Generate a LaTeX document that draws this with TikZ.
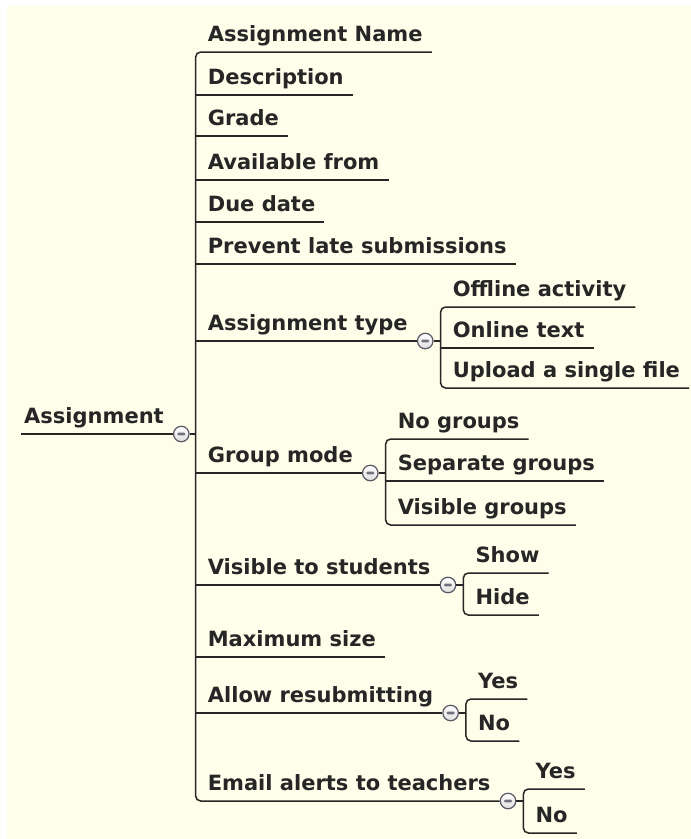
\documentclass[tikz,border=0pt]{standalone}
\usepackage{fontspec}
\setmainfont{DejaVu Sans}
\usetikzlibrary{positioning, calc}
\definecolor{paper}{RGB}{254,254,234}
\definecolor{ink}{RGB}{38,38,38}
\definecolor{rim}{RGB}{88,88,100}
\tikzset{
  item/.style    = {anchor=south west, xshift=3pt,
                    inner xsep=9pt, inner ysep=10pt, text depth=0pt,
                    text=ink, font=\fontsize{21}{24}\selectfont\bfseries},
  link/.style    = {draw=ink, line width=1.5pt},
  bracket/.style = {link, rounded corners=5pt},
  toggle/.style  = {circle, draw=rim, line width=1.2pt, anchor=west,
                    top color=white, bottom color=gray!25,
                    minimum size=15.5pt, inner sep=0pt,
                    path picture={\fill[rim!85, rounded corners=1.2pt]
                      ($(path picture bounding box.center)+(-4pt,-1.4pt)$)
                      rectangle ++(8pt,2.8pt);}},
}

\begin{document}
\begin{tikzpicture}[x=1pt, y=-1pt]

% ── Page ──────────────────────────────────────────────────
\useasboundingbox (0,0) rectangle (691,839);
\fill[white] (0,0) rectangle (691,839);
\fill[paper] (7,5) rectangle (691,839);

% ── Root ──────────────────────────────────────────────────
\node[item] (root) at (12,434) {Assignment};
\node[toggle] (tgRoot) at (root.south east) {};
\coordinate[right=6pt of tgRoot.east] (trunk);

% ── First level ───────────────────────────────────────────
\node[item] (name)    at (trunk |- 0,52)  {Assignment Name};
\node[item] (desc)    at (trunk |- 0,95)  {Description};
\node[item] (grade)   at (trunk |- 0,136) {Grade};
\node[item] (avail)   at (trunk |- 0,180) {Available from};
\node[item] (due)     at (trunk |- 0,222) {Due date};
\node[item] (late)    at (trunk |- 0,264) {Prevent late submissions};
\node[item] (type)    at (trunk |- 0,341) {Assignment type};
\node[item] (group)   at (trunk |- 0,473) {Group mode};
\node[item] (visible) at (trunk |- 0,585) {Visible to students};
\node[item] (maxsize) at (trunk |- 0,657) {Maximum size};
\node[item] (resub)   at (trunk |- 0,713) {Allow resubmitting};
\node[item] (email)   at (trunk |- 0,801) {Email alerts to teachers};

% ── Toggles ───────────────────────────────────────────────
\node[toggle] (tgType)    at (type.south east)    {};
\node[toggle] (tgGroup)   at (group.south east)   {};
\node[toggle] (tgVisible) at (visible.south east) {};
\node[toggle] (tgResub)   at (resub.south east)   {};
\node[toggle] (tgEmail)   at (email.south east)   {};

\coordinate[right=7pt of tgType.east]    (brType);
\coordinate[right=7pt of tgGroup.east]   (brGroup);
\coordinate[right=7pt of tgVisible.east] (brVisible);
\coordinate[right=7pt of tgResub.east]   (brResub);
\coordinate[right=7pt of tgEmail.east]   (brEmail);

% ── Second level ──────────────────────────────────────────
\node[item] (offline)  at (brType |- 0,307)    {Offline activity};
\node[item] (online)   at (brType |- 0,348)    {Online text};
\node[item] (upload)   at (brType |- 0,388)    {Upload a single file};

\node[item] (nogrp)    at (brGroup |- 0,439)   {No groups};
\node[item] (sepgrp)   at (brGroup |- 0,481)   {Separate groups};
\node[item] (visgrp)   at (brGroup |- 0,525)   {Visible groups};

\node[item] (show)     at (brVisible |- 0,573) {Show};
\node[item] (hide)     at (brVisible |- 0,615) {Hide};

\node[item] (resubyes) at (brResub |- 0,699)   {Yes};
\node[item] (resubno)  at (brResub |- 0,741)   {No};

\node[item] (emailyes) at (brEmail |- 0,789)   {Yes};
\node[item] (emailno)  at (brEmail |- 0,833)   {No};

% ── Connectors: root and trunk ────────────────────────────
\draw[link] (root.south west) ++(6pt,0) -- (tgRoot.west);
\draw[link] (tgRoot.east) -- (trunk |- tgRoot);
\draw[bracket] (name.south east) -- (trunk |- name.south)
               -- (trunk |- email.south) -- (tgEmail.west);
\foreach \n in {desc, grade, avail, due, late, maxsize}
  \draw[link] (trunk |- \n.south) -- (\n.south east);
\foreach \n in {type, group, visible, resub}
  \draw[link] (trunk |- \n.south) -- (\n.south east);

% ── Connectors: branches ──────────────────────────────────
\draw[link] (tgType.east) -- (brType);
\draw[bracket] (offline.south east) -- (brType |- offline.south)
               -- (brType |- upload.south) -- (upload.south east);
\draw[link] (brType |- online.south) -- (online.south east);

\draw[link] (tgGroup.east) -- (brGroup);
\draw[bracket] (nogrp.south east) -- (brGroup |- nogrp.south)
               -- (brGroup |- visgrp.south) -- (visgrp.south east);
\draw[link] (brGroup |- sepgrp.south) -- (sepgrp.south east);

\draw[link] (tgVisible.east) -- (brVisible);
\draw[bracket] (show.south east) -- (brVisible |- show.south)
               -- (brVisible |- hide.south) -- (hide.south east);

\draw[link] (tgResub.east) -- (brResub);
\draw[bracket] (resubyes.south east) -- (brResub |- resubyes.south)
               -- (brResub |- resubno.south) -- (resubno.south east);

\draw[link] (tgEmail.east) -- (brEmail);
\draw[bracket] (emailyes.south east) -- (brEmail |- emailyes.south)
               -- (brEmail |- emailno.south) -- (emailno.south east);

\end{tikzpicture}
\end{document}
